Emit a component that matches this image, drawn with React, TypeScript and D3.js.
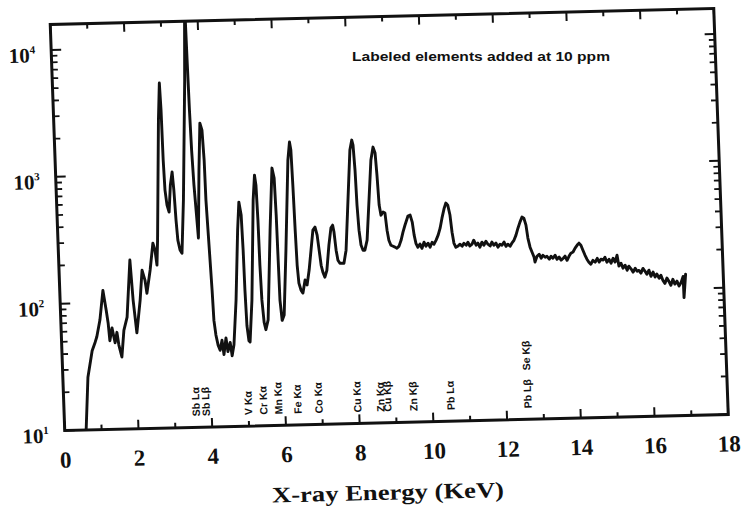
import React from "react";
import * as d3 from "d3";

// Measured spectrum: photon energy (keV) and counts per channel
const energyKeV = [
  0.57, 0.68, 0.82, 0.91, 0.96, 1.06, 1.17, 1.24, 1.28, 1.31, 1.38, 1.45, 1.51, 1.55, 1.62, 1.7, 1.8, 1.93, 1.98, 2.05,
  2.17, 2.25, 2.32, 2.36, 2.47, 2.57, 2.62, 2.66, 2.7, 2.84, 2.9, 2.92, 2.93, 2.95, 2.99, 3.04, 3.1, 3.16, 3.19, 3.22,
  3.25, 3.3, 3.35, 3.44, 3.59, 3.66, 3.675, 3.69, 3.71, 3.74, 3.78, 3.81, 3.89, 3.96, 4.01, 4.04, 4.05, 4.09, 4.13, 4.15,
  4.19, 4.24, 4.29, 4.35, 4.39, 4.46, 4.5, 4.57, 4.61, 4.67, 4.77, 4.88, 4.94, 4.99, 5.01, 5.02, 5.04, 5.08, 5.11, 5.2,
  5.33, 5.39, 5.42, 5.44, 5.45, 5.47, 5.51, 5.55, 5.62, 5.76, 5.87, 5.92, 5.94, 5.95, 5.96, 6.0, 6.06, 6.17, 6.31, 6.37,
  6.4, 6.42, 6.44, 6.46, 6.49, 6.54, 6.59, 6.66, 6.71, 6.78, 6.85, 6.92, 6.98, 7.03, 7.07, 7.11, 7.15, 7.2, 7.26, 7.34,
  7.41, 7.46, 7.49, 7.53, 7.57, 7.62, 7.68, 7.73, 7.8, 7.9, 8.0, 8.06, 8.09, 8.12, 8.14, 8.17, 8.21, 8.26, 8.31, 8.38,
  8.47, 8.56, 8.63, 8.68, 8.71, 8.74, 8.78, 8.84, 8.89, 8.93, 8.97, 9.02, 9.08, 9.13, 9.18, 9.24, 9.3, 9.36, 9.42, 9.51,
  9.57, 9.62, 9.66, 9.7, 9.75, 9.81, 9.86, 9.92, 9.97, 10.03, 10.08, 10.14, 10.19, 10.25, 10.31, 10.37, 10.43, 10.5, 10.55, 10.6,
  10.65, 10.69, 10.73, 10.78, 10.84, 10.89, 10.95, 11.0, 11.06, 11.11, 11.16, 11.22, 11.27, 11.33, 11.38, 11.43, 11.49, 11.54, 11.6, 11.65,
  11.71, 11.76, 11.81, 11.87, 11.92, 11.98, 12.03, 12.09, 12.14, 12.19, 12.25, 12.3, 12.36, 12.42, 12.48, 12.54, 12.6, 12.65, 12.7, 12.74,
  12.79, 12.84, 12.89, 12.91, 12.97, 13.03, 13.08, 13.13, 13.19, 13.24, 13.3, 13.35, 13.4, 13.46, 13.51, 13.57, 13.62, 13.68, 13.73, 13.78,
  13.84, 13.89, 13.95, 14.01, 14.07, 14.12, 14.17, 14.22, 14.27, 14.32, 14.37, 14.42, 14.48, 14.54, 14.6, 14.65, 14.7, 14.76, 14.81, 14.86,
  14.92, 14.97, 15.03, 15.08, 15.14, 15.18, 15.24, 15.29, 15.35, 15.4, 15.45, 15.51, 15.56, 15.62, 15.67, 15.72, 15.77, 15.83, 15.88, 15.93,
  15.99, 16.04, 16.1, 16.15, 16.2, 16.26, 16.31, 16.36, 16.41, 16.47, 16.52, 16.57, 16.63, 16.68, 16.74, 16.79, 16.85, 16.91, 16.915, 16.98,
];

const countsPerChannel = [
  9, 26, 42, 49, 54, 73, 125, 87, 69, 50, 63, 48, 58, 46, 37, 60, 76, 214, 103, 57,
  103, 177, 148, 116, 177, 288, 254, 193, 303, 2680, 5250, 3210, 1294, 750, 571, 502, 819, 1038, 747, 433,
  301, 251, 237, 621, 5480, 22000, 7870, 3180, 1532, 811, 470, 309, 1062, 2490, 2190, 1271, 614, 271, 119, 69,
  53, 44, 40, 48, 37, 50, 39, 46, 36, 44, 99, 352, 584, 461, 244, 118, 62, 47, 46, 98,
  602, 946, 788, 418, 184, 98, 65, 57, 68, 347, 1067, 889, 454, 200, 97, 67, 74, 239, 1226, 1698,
  1468, 776, 343, 181, 131, 115, 109, 138, 126, 165, 237, 340, 359, 310, 236, 179, 158, 144, 163, 257,
  350, 369, 325, 234, 195, 184, 184, 184, 233, 577, 1430, 1712, 1563, 993, 525, 333, 254, 231, 231, 277,
  572, 1183, 1494, 1339, 897, 520, 433, 458, 449, 329, 274, 250, 245, 241, 236, 245, 272, 315, 357, 421,
  428, 377, 297, 256, 238, 252, 233, 260, 242, 255, 237, 259, 250, 269, 294, 333, 399, 478, 524, 504,
  421, 308, 253, 234, 239, 247, 238, 251, 242, 255, 238, 246, 264, 241, 250, 232, 254, 240, 258, 244,
  236, 253, 239, 248, 230, 243, 238, 252, 233, 242, 233, 246, 259, 284, 322, 359, 393, 385, 339, 268,
  227, 207, 189, 173, 192, 199, 185, 195, 188, 191, 181, 191, 184, 194, 180, 187, 177, 183, 190, 176,
  190, 200, 204, 219, 231, 239, 230, 210, 192, 178, 168, 162, 174, 168, 180, 168, 177, 174, 183, 167,
  176, 164, 179, 167, 189, 155, 163, 149, 157, 143, 154, 146, 138, 148, 140, 142, 135, 147, 140, 132,
  142, 127, 137, 125, 132, 122, 129, 117, 111, 122, 115, 107, 119, 109, 115, 105, 112, 125, 85, 130,
];

// Axis ticks
const xMajorTicks = [0, 2, 4, 6, 8, 10, 12, 14, 16, 18];
const xMinorTicks = [1, 3, 5, 7, 9, 11, 13, 15, 17];
const yDecades = [10, 100, 1000, 10000];
const yExponents = ["1", "2", "3", "4"];

// Emission lines of the added elements (vertical labels near the baseline)
const lineEnergy = [3.57, 3.84, 4.99, 5.4, 5.81, 6.33, 6.9, 7.95, 8.58, 8.77, 9.47, 10.48, 12.57, 12.57];
const lineName = ["Sb Lα", "Sb Lβ", "V Kα", "Cr Kα", "Mn Kα", "Fe Kα", "Co Kα", "Cu Kα", "Zn Kα", "Cu Kβ", "Zn Kβ", "Pb Lα", "Pb Lβ", "Se Kβ"];
const lineTier = [0, 0, 0, 0, 0, 0, 0, 0, 0, 0, 0, 0, 0, 1];

const noteText = "Labeled elements added at 10 ppm";
const xTitle = "X-ray Energy (KeV)";

const W = 663.5;
const H = 406;
const Y_MAX = 15900;
const SERIF = "'Liberation Serif', 'DejaVu Serif', serif";
const SANS = "'Liberation Sans', Arial, sans-serif";

export default function App() {
  const x = d3.scaleLinear().domain([0, 18]).range([0, W]);
  const y = d3.scaleLog().domain([10, Y_MAX]).range([H, 0]);

  const spectrum = d3
    .line<number>()
    .x((_, i) => x(energyKeV[i]))
    .y((_, i) => y(countsPerChannel[i]))(countsPerChannel) as string;

  const yMinor: number[] = [];
  yDecades.forEach((d) => {
    for (let m = 2; m <= 9; m++) {
      const v = d * m;
      if (v < Y_MAX) yMinor.push(v);
    }
  });

  const ink = "#111";

  return (
    <svg
      width={743}
      height={509}
      viewBox="0 0 743 509"
      style={{ position: "absolute", left: 0, top: 0, background: "#fff" }}
    >
      <defs>
        <clipPath id="plot-area">
          <rect x={0} y={0} width={W} height={H} />
        </clipPath>
      </defs>

      {/* plot frame, axes and spectrum share one slightly sheared frame */}
      <g transform="matrix(1,-0.0241,0.0357,1,50.25,24.5)">
        <path
          d={spectrum}
          fill="none"
          stroke={ink}
          strokeWidth={2.9}
          strokeLinejoin="round"
          strokeLinecap="round"
          clipPath="url(#plot-area)"
        />

        <rect x={0} y={0} width={W} height={H} fill="none" stroke={ink} strokeWidth={3} />

        {/* x ticks: bottom and top, pointing inward */}
        {xMajorTicks.map((t) => (
          <g key={"xM" + t}>
            <line x1={x(t)} x2={x(t)} y1={H} y2={H - 9} stroke={ink} strokeWidth={2} />
            <line x1={x(t)} x2={x(t)} y1={0} y2={9} stroke={ink} strokeWidth={2} />
          </g>
        ))}
        {xMinorTicks.map((t) => (
          <g key={"xm" + t}>
            <line x1={x(t)} x2={x(t)} y1={H} y2={H - 5} stroke={ink} strokeWidth={2} />
            <line x1={x(t)} x2={x(t)} y1={0} y2={5} stroke={ink} strokeWidth={2} />
          </g>
        ))}

        {/* y ticks: left and right, pointing inward */}
        {yDecades.map((d) => (
          <g key={"yM" + d}>
            <line x1={0} x2={10} y1={y(d)} y2={y(d)} stroke={ink} strokeWidth={2} />
            <line x1={W} x2={W - 10} y1={y(d)} y2={y(d)} stroke={ink} strokeWidth={2} />
          </g>
        ))}
        {yMinor.map((v) => (
          <g key={"ym" + v}>
            <line x1={0} x2={6} y1={y(v)} y2={y(v)} stroke={ink} strokeWidth={1.8} />
            <line x1={W} x2={W - 6} y1={y(v)} y2={y(v)} stroke={ink} strokeWidth={1.8} />
          </g>
        ))}

        {/* x tick labels */}
        {xMajorTicks.map((t) => (
          <text
            key={"xl" + t}
            x={x(t)}
            y={H + 37}
            textAnchor="middle"
            fontFamily={SERIF}
            fontWeight="bold"
            fontSize={23}
            fill={ink}
          >
            {t}
          </text>
        ))}

        {/* y tick labels */}
        {yDecades.map((d, i) => (
          <text
            key={"yl" + d}
            x={-16}
            y={y(d) + 12}
            textAnchor="end"
            fontFamily={SERIF}
            fontWeight="bold"
            fontSize={21}
            fill={ink}
          >
            10
            <tspan fontSize={11} dy={-9}>
              {yExponents[i]}
            </tspan>
          </text>
        ))}

        {/* element line labels */}
        {lineEnergy.map((e, i) => (
          <text
            key={"el" + i}
            transform={`translate(${x(e)},${H - 11 - lineTier[i] * 38}) rotate(-90)`}
            dominantBaseline="central"
            textAnchor="start"
            fontFamily={SANS}
            fontWeight="bold"
            fontSize={10.5}
            fill={ink}
          >
            {lineName[i]}
          </text>
        ))}

        {/* x axis title */}
        <text
          x={x(9) - 11}
          y={H + 77}
          textAnchor="middle"
          fontFamily={SERIF}
          fontWeight="bold"
          fontSize={22}
          textLength={232}
          lengthAdjust="spacingAndGlyphs"
          fill={ink}
        >
          {xTitle}
        </text>
      </g>

      <text
        x={352}
        y={61}
        fontFamily={SANS}
        fontWeight="bold"
        fontSize={13}
        textLength={258}
        lengthAdjust="spacingAndGlyphs"
        fill={ink}
      >
        {noteText}
      </text>
    </svg>
  );
}
